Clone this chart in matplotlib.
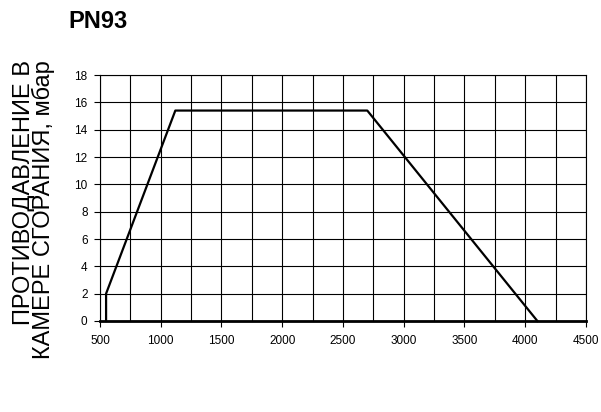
import matplotlib
matplotlib.use("Agg")
import matplotlib.pyplot as plt
import numpy as np

plt.rcParams['font.family'] = ['Liberation Sans', 'DejaVu Sans']

x_vals = [550, 550, 1120, 2700, 4100]
y_vals = [0, 2, 15.4, 15.4, 0]
x_ticks = [500, 1000, 1500, 2000, 2500, 3000, 3500, 4000, 4500]
y_ticks = [0, 2, 4, 6, 8, 10, 12, 14, 16, 18]
title = "PN93"
ylabel = "ПРОТИВОДАВЛЕНИЕ В\nКАМЕРЕ СГОРАНИЯ, мбар"

fig = plt.figure(figsize=(6.01, 4.12), dpi=100)
ax = fig.add_axes([0.1664, 0.2209, 0.8086, 0.597])
ax.set_xlim(500, 4500)
ax.set_ylim(0, 18)
ax.set_xticks(x_ticks)
ax.set_xticks(np.arange(500, 4501, 250), minor=True)
ax.set_yticks(y_ticks)
ax.grid(True, which='both', color='black', linewidth=0.8)
ax.tick_params(axis='x', which='minor', length=0)
ax.tick_params(axis='both', which='major', direction='out', length=4, width=0.8,
               labelsize=8.5, color='black')
ax.tick_params(axis='x', pad=6)
ax.tick_params(axis='y', pad=5)
for s in ax.spines.values():
    s.set_linewidth(0.8)
ax.spines['bottom'].set_linewidth(2)
ax.plot(x_vals, y_vals, color='black', linewidth=1.6, clip_on=False)
fig.text(34 / 601, 1 - 60 / 412, ylabel, fontsize=17, rotation=90,
         ha='center', va='top', multialignment='right', linespacing=0.8)
fig.text(68 / 601, 1 - 28 / 412, title, fontsize=17, fontweight='bold',
         ha='left', va='baseline')
fig.savefig("out.png", dpi=100)
